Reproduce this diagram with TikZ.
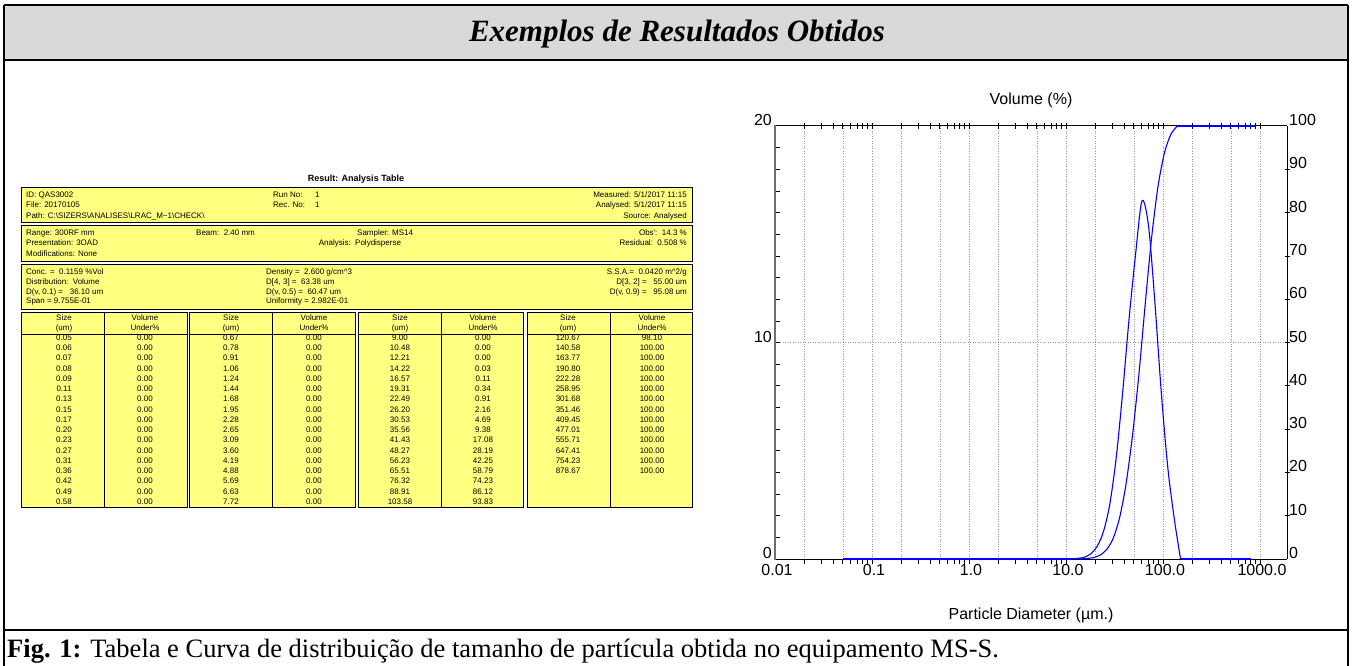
\documentclass[tikz,border=0pt]{standalone}
\usepackage{fontspec}
\setmainfont{Liberation Serif}
\newfontfamily\arialf{Liberation Sans}
\definecolor{tyellow}{RGB}{255,255,128}
\definecolor{bandgray}{RGB}{217,217,217}
\definecolor{gridgray}{RGB}{150,150,150}
\definecolor{axgray}{RGB}{110,110,110}
\definecolor{curveblue}{RGB}{0,0,255}
\begin{document}
\begin{tikzpicture}[x=1pt,y=-1pt,
  declare function={lx(\d)=775+97*(log10(\d)+2); ly(\v)=559-21.65*\v; ry(\v)=559-4.33*\v;},
  frame/.style={line width=2.5pt,black},
  tt/.style={font=\arialf\fontsize{8}{9.6}\selectfont,inner sep=0pt},
  tl/.style={tt,anchor=base west},
  tr/.style={tt,anchor=base east},
  tc/.style={tt,anchor=base},
  tbox/.style={fill=tyellow,draw=black,line width=1pt},
  tsep/.style={draw=black,line width=0.8pt},
  ax/.style={font=\arialf\fontsize{16}{19}\selectfont,inner sep=0pt},
  gridl/.style={gridgray,line width=0.6pt,dash pattern=on 1pt off 1.5pt},
  tick/.style={black,line width=0.7pt},
  curve/.style={curveblue,line width=1.1pt,line join=round}]
\useasboundingbox (0,0) rectangle (1352,666);
% ---------- frame ----------
\fill[bandgray] (4,5) rectangle (1348,60);
\draw[frame] (4,5) -- (1348,5);
\draw[frame] (4,60) -- (1348,60);
\draw[frame] (4,630) -- (1348,630);
\draw[frame] (4,5) -- (4,680);
\draw[frame] (1348,5) -- (1348,680);
\node[font=\fontsize{31}{36}\selectfont\bfseries\itshape,inner sep=0pt,anchor=base] (title) at (677,42) {Exemplos de Resultados Obtidos};
\node[font=\fontsize{26.5}{30}\selectfont,inner sep=0pt,anchor=base west] (caption) at (7,657) {\textbf{Fig. 1:} Tabela e Curva de distribuição de tamanho de partícula obtida no equipamento MS-S.};
% ---------- table ----------
\node[tt,font=\arialf\bfseries\fontsize{9}{11}\selectfont,anchor=base] (rtitle) at (356,182) {Result: Analysis Table};
\draw[tbox] (21,187) rectangle (692,222);
\draw[tbox] (21,225) rectangle (692,261);
\draw[tbox] (21,264) rectangle (692,309);
\node[tl] (id) at (26,197.2) {ID: QAS3002};
\node[tl] (file) at (26,207.6) {File: 20170105};
\node[tl] (path) at (26,218) {Path: C:\textbackslash SIZERS\textbackslash ANALISES\textbackslash LRAC\_M\textasciitilde 1\textbackslash CHECK\textbackslash};
\node[tl] (runl) at (273,197.2) {Run No:};
\node[tl] (runv) at (315,197.2) {1};
\node[tl] (recl) at (273,207.6) {Rec. No:};
\node[tl] (recv) at (315,207.6) {1};
\node[tr] (meas) at (687,197.2) {Measured: 5/1/2017 11:15};
\node[tr] (anal) at (687,207.6) {Analysed: 5/1/2017 11:15};
\node[tr] (src) at (687,218) {Source: Analysed};
\node[tl] (range) at (26,235.2) {Range: 300RF mm};
\node[tl] (pres) at (26,245.6) {Presentation: 3OAD};
\node[tl] (modif) at (26,256.2) {Modifications: None};
\node[tl] (beam) at (196,235.2) {Beam:\ \ 2.40 mm};
\node[tl] (sampler) at (357,235.2) {Sampler: MS14};
\node[tr] (analysl) at (351,245.6) {Analysis:};
\node[tl] (analysv) at (355,245.6) {Polydisperse};
\node[tr] (obs) at (687,235.2) {Obs':\ \ 14.3 \%};
\node[tr] (resid) at (687,245.6) {Residual:\ \ 0.508 \%};
\node[tl] (conc) at (26,274.6) {Conc. =\ \ 0.1159 \%Vol};
\node[tl] (distr) at (26,284.2) {Distribution:\ \ Volume};
\node[tl] (dv1) at (26,294.2) {D(v, 0.1) =\ \ \ 36.10 um};
\node[tl] (span) at (26,303.9) {Span = 9.755E-01};
\node[tl] (dens) at (266,274.6) {Density =\ \ 2.600 g/cm\textasciicircum 3};
\node[tl] (d43) at (266,284.2) {D[4, 3] =\ \ 63.38 um};
\node[tl] (dv5) at (266,294.2) {D(v, 0.5) =\ \ 60.47 um};
\node[tl] (unif) at (266,303.9) {Uniformity = 2.982E-01};
\node[tr] (ssa) at (687,274.6) {S.S.A.=\ \ 0.0420 m\textasciicircum 2/g};
\node[tr] (d32) at (687,284.2) {D[3, 2] =\ \ \ 55.00 um};
\node[tr] (dv9) at (687,294.2) {D(v, 0.9) =\ \ \ 95.08 um};
% column groups
\foreach \a/\b/\m/\sc/\vc [count=\g] in {21/187/104.3/64/145, 189/355/272.7/231/314, 358/523/441.7/400/483, 527/692/610.7/568/652}{
  \draw[tbox] (\a,312) rectangle (\b,507);
  \draw[tsep] (\m,312) -- (\m,507);
  \draw[tsep] (\a,334) -- (\b,334);
  \node[tc] (hs\g) at (\sc,320.2) {Size};
  \node[tc] (hu\g) at (\sc,330.6) {(um)};
  \node[tc] (hv\g) at (\vc,320.2) {Volume};
  \node[tc] (hp\g) at (\vc,330.6) {Under\%};
}
\foreach \s [count=\i] in {0.05,0.06,0.07,0.08,0.09,0.11,0.13,0.15,0.17,0.20,0.23,0.27,0.31,0.36,0.42,0.49,0.58}{
  \node[tc] (as\i) at (64,{340.2+10.27*(\i-1)}) {\s};
  \node[tc] (av\i) at (145,{340.2+10.27*(\i-1)}) {0.00};
}
\foreach \s [count=\i] in {0.67,0.78,0.91,1.06,1.24,1.44,1.68,1.95,2.28,2.65,3.09,3.60,4.19,4.88,5.69,6.63,7.72}{
  \node[tc] (bs\i) at (231,{340.2+10.27*(\i-1)}) {\s};
  \node[tc] (bv\i) at (314,{340.2+10.27*(\i-1)}) {0.00};
}
\foreach \s/\v [count=\i] in {9.00/0.00,10.48/0.00,12.21/0.00,14.22/0.03,16.57/0.11,19.31/0.34,22.49/0.91,26.20/2.16,30.53/4.69,35.56/9.38,41.43/17.08,48.27/28.19,56.23/42.25,65.51/58.79,76.32/74.23,88.91/86.12,103.58/93.83}{
  \node[tc] (cs\i) at (400,{340.2+10.27*(\i-1)}) {\s};
  \node[tc] (cv\i) at (483,{340.2+10.27*(\i-1)}) {\v};
}
\foreach \s/\v [count=\i] in {120.67/98.10,140.58/100.00,163.77/100.00,190.80/100.00,222.28/100.00,258.95/100.00,301.68/100.00,351.46/100.00,409.45/100.00,477.01/100.00,555.71/100.00,647.41/100.00,754.23/100.00,878.67/100.00}{
  \node[tc] (ds\i) at (568,{340.2+10.27*(\i-1)}) {\s};
  \node[tc] (dv\i) at (652,{340.2+10.27*(\i-1)}) {\v};
}
% ---------- chart ----------
\foreach \d in {0.02,0.05,0.1,0.2,0.5,1,2,5,10,20,50,100,200,500,1000}
  \draw[gridl] ({lx(\d)},126) -- ({lx(\d)},559);
\draw[gridl] (775,{ly(10)}) -- (1287,{ly(10)});
% ticks
\foreach \k in {-2,...,2}{
  \foreach \n in {2,...,9}{
    \draw[tick] ({775+97*(\k+2+log10(\n))},123.5) -- ++(0,6);
    \draw[tick] ({775+97*(\k+2+log10(\n))},559) -- ++(0,4.5);
  }
}
\foreach \k in {-1,...,3}{
  \draw[tick] ({775+97*(\k+2)},123.5) -- ++(0,6);
  \draw[tick] ({775+97*(\k+2)},559) -- ++(0,4.5);
}
\foreach \v in {1,...,19}
  \draw[tick] (775,{ly(\v)}) -- ++(4.5,0);
\foreach \v in {10,20,...,90}
  \draw[tick] (1285,{ry(\v)}) -- ++(5,0);
% axes
\draw[black,line width=1pt] (775,126) -- (1287,126);
\draw[black,line width=1pt] (1287,126) -- (1287,559);
\draw[black,line width=1pt] (775,559) -- (1287,559);
\draw[axgray,line width=1.8pt] (775,125.5) -- (775,559.5);
% curves
\draw[curve] ({lx(0.05)},559) -- ({lx(12.21)},559);
\draw[curve] plot[smooth,tension=0.45] coordinates {({lx(12.21)},{ry(0)}) ({lx(14.22)},{ry(0.03)}) ({lx(16.57)},{ry(0.11)}) ({lx(19.31)},{ry(0.34)}) ({lx(22.49)},{ry(0.91)}) ({lx(26.20)},{ry(2.16)}) ({lx(30.53)},{ry(4.69)}) ({lx(35.56)},{ry(9.38)}) ({lx(41.43)},{ry(17.08)}) ({lx(48.27)},{ry(28.19)}) ({lx(56.23)},{ry(42.25)}) ({lx(65.51)},{ry(58.79)}) ({lx(76.32)},{ry(74.23)}) ({lx(88.91)},{ry(86.12)}) ({lx(103.58)},{ry(93.83)}) ({lx(120.67)},{ry(98.10)}) ({lx(140.58)},{ry(100)})};
\draw[curve] ({lx(140.58)},{ry(100)}) -- ({lx(878.67)},{ry(100)});
\draw[curve] ({lx(0.0548)},559) -- ({lx(11.31)},559);
\draw[curve] plot[smooth,tension=0.5] coordinates {({lx(11.31)},{ly(0)}) ({lx(13.18)},{ly(0.03)}) ({lx(15.35)},{ly(0.08)}) ({lx(17.89)},{ly(0.23)}) ({lx(20.84)},{ly(0.57)}) ({lx(24.27)},{ly(1.25)}) ({lx(28.28)},{ly(2.53)}) ({lx(32.95)},{ly(4.69)}) ({lx(38.38)},{ly(7.70)}) ({lx(44.72)},{ly(11.11)}) ({lx(52.10)},{ly(14.06)}) ({lx(60.69)},{ly(16.54)}) ({lx(70.71)},{ly(15.44)}) ({lx(82.38)},{ly(11.89)}) ({lx(95.96)},{ly(7.71)}) ({lx(111.80)},{ly(4.27)}) ({lx(130.25)},{ly(1.90)}) ({lx(151.73)},{ly(0)})};
\draw[curve] ({lx(151.73)},559) -- ({lx(814.1)},559);
% labels
\node[ax] (voltitle) at (1031,100) {Volume (\%)};
\node[ax] (xtitle) at (1031,615) {Particle Diameter (µm.)};
\node[ax,anchor=east] (l20) at (772,120) {20};
\node[ax,anchor=east] (l10) at (772,337) {10};
\node[ax,anchor=east] (l0) at (772,553) {0};
\foreach \v in {0,10,...,100}
  \node[ax,anchor=west] (r\v) at (1289,{ry(\v)-6}) {\v};
\foreach \t/\k [count=\i] in {0.01/-2,0.1/-1,1.0/0,10.0/1,100.0/2,1000.0/3}
  \node[ax] (x\i) at ({775+97*(\k+2)+2},570) {\t};
\end{tikzpicture}
\end{document}
